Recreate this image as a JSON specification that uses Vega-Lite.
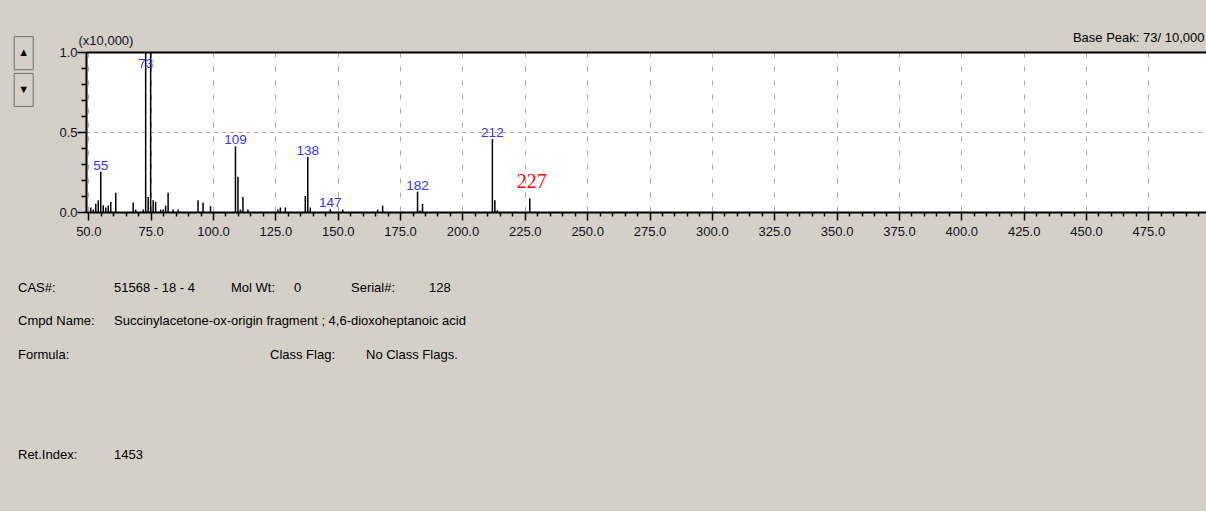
{
  "$schema": "https://vega.github.io/schema/vega-lite/v6.json",
  "autosize": {"type": "none"},
  "width": 1120,
  "height": 160,
  "padding": {"left": 86, "top": 52, "right": 0, "bottom": 299},
  "background": "#d4d0c8",
  "view": {"fill": "white", "stroke": null},
  "config": {"font": "Liberation Sans"},
  "datasets": {
    "peaks": [
      {"mz": 51, "intensity": 0.028},
      {"mz": 52, "intensity": 0.015},
      {"mz": 53, "intensity": 0.052},
      {"mz": 54, "intensity": 0.073},
      {"mz": 55, "intensity": 0.252, "annotation": "auto"},
      {"mz": 56, "intensity": 0.042},
      {"mz": 57, "intensity": 0.028},
      {"mz": 58, "intensity": 0.04},
      {"mz": 59, "intensity": 0.063},
      {"mz": 61, "intensity": 0.12},
      {"mz": 68, "intensity": 0.06},
      {"mz": 69, "intensity": 0.015},
      {"mz": 72, "intensity": 0.015},
      {"mz": 73, "intensity": 1.0, "annotation": "auto"},
      {"mz": 74, "intensity": 0.094},
      {"mz": 75, "intensity": 1.0},
      {"mz": 76, "intensity": 0.073},
      {"mz": 77, "intensity": 0.063},
      {"mz": 79, "intensity": 0.015},
      {"mz": 80, "intensity": 0.015},
      {"mz": 81, "intensity": 0.04},
      {"mz": 82, "intensity": 0.12},
      {"mz": 84, "intensity": 0.015},
      {"mz": 86, "intensity": 0.015},
      {"mz": 94, "intensity": 0.073},
      {"mz": 96, "intensity": 0.06},
      {"mz": 99, "intensity": 0.037},
      {"mz": 109, "intensity": 0.41, "annotation": "auto"},
      {"mz": 110, "intensity": 0.22},
      {"mz": 111, "intensity": 0.015},
      {"mz": 112, "intensity": 0.094},
      {"mz": 114, "intensity": 0.015},
      {"mz": 126, "intensity": 0.015},
      {"mz": 127, "intensity": 0.028},
      {"mz": 129, "intensity": 0.028},
      {"mz": 137, "intensity": 0.1},
      {"mz": 138, "intensity": 0.346, "annotation": "auto"},
      {"mz": 139, "intensity": 0.028},
      {"mz": 147, "intensity": 0.017, "annotation": "auto"},
      {"mz": 152, "intensity": 0.015},
      {"mz": 166, "intensity": 0.015},
      {"mz": 168, "intensity": 0.04},
      {"mz": 182, "intensity": 0.127, "annotation": "auto"},
      {"mz": 183, "intensity": 0.01},
      {"mz": 184, "intensity": 0.05},
      {"mz": 212, "intensity": 0.456, "annotation": "auto"},
      {"mz": 213, "intensity": 0.073},
      {"mz": 214, "intensity": 0.01},
      {"mz": 227, "intensity": 0.086, "annotation": "manual"}
    ],
    "info": [
      {"line": 1, "tab": 0, "text": "CAS#:"},
      {"line": 1, "tab": 16, "text": "51568 - 18 - 4"},
      {"line": 1, "tab": 35.5, "text": "Mol Wt:"},
      {"line": 1, "tab": 46, "text": "0"},
      {"line": 1, "tab": 55.5, "text": "Serial#:"},
      {"line": 1, "tab": 68.5, "text": "128"},
      {"line": 2, "tab": 0, "text": "Cmpd Name:"},
      {"line": 2, "tab": 16, "text": "Succinylacetone-ox-origin fragment ; 4,6-dioxoheptanoic acid"},
      {"line": 3, "tab": 0, "text": "Formula:"},
      {"line": 3, "tab": 42, "text": "Class Flag:"},
      {"line": 3, "tab": 58, "text": "No Class Flags."},
      {"line": 6, "tab": 0, "text": "Ret.Index:"},
      {"line": 6, "tab": 16, "text": "1453"}
    ],
    "controls": [
      {"control": "scroll up", "glyph": "▲", "line": -6.18, "tab": 0.95},
      {"control": "scroll down", "glyph": "▼", "line": -5.08, "tab": 0.95}
    ]
  },
  "layer": [
    {
      "data": {"name": "peaks"},
      "mark": {"type": "rule", "color": "black", "strokeWidth": 1.5},
      "encoding": {
        "x": {
          "field": "mz", "type": "quantitative",
          "scale": {"domain": [49.08, 498.1], "nice": false, "zero": false},
          "axis": {
            "title": null,
            "values": [50,55,60,65,70,75,80,85,90,95,100,105,110,115,120,125,130,135,140,145,150,155,160,165,170,175,180,185,190,195,200,205,210,215,220,225,230,235,240,245,250,255,260,265,270,275,280,285,290,295,300,305,310,315,320,325,330,335,340,345,350,355,360,365,370,375,380,385,390,395,400,405,410,415,420,425,430,435,440,445,450,455,460,465,470,475,480,485,490,495],
            "labelExpr": "datum.value % 25 === 0 ? format(datum.value, '.1f') : ''",
            "labelOverlap": false,
            "labelFlush": false,
            "labelFont": "Liberation Sans",
            "labelFontSize": 13,
            "labelColor": "#111122",
            "labelPadding": 5,
            "tickColor": "black",
            "tickWidth": 1.5,
            "tickSize": {"condition": {"test": "datum.value % 25 === 0", "value": 8}, "value": 4},
            "domainColor": "black",
            "domainWidth": 2,
            "grid": true,
            "gridColor": "#a8a8a8",
            "gridWidth": 1,
            "gridDash": [5, 9],
            "gridOpacity": {"condition": {"test": "datum.value % 25 === 0", "value": 1}, "value": 0}
          }
        },
        "y": {
          "field": "intensity", "type": "quantitative",
          "scale": {"domain": [0, 1], "nice": false},
          "axis": {
            "title": "(x10,000)",
            "titleAngle": 0,
            "titleAlign": "left",
            "titleBaseline": "alphabetic",
            "titleX": -8,
            "titleY": -8,
            "titleFont": "Liberation Sans",
            "titleFontSize": 13,
            "titleFontWeight": "normal",
            "titleColor": "#111122",
            "values": [0, 0.1, 0.2, 0.3, 0.4, 0.5, 0.6, 0.7, 0.8, 0.9, 1],
            "labelExpr": "(datum.value === 0 || datum.value === 0.5 || datum.value === 1) ? format(datum.value, '.1f') : ''",
            "labelFont": "Liberation Sans",
            "labelFontSize": 13,
            "labelColor": "#111122",
            "labelPadding": 0,
            "labelBaseline": "middle",
            "labelOverlap": false,
            "labelFlush": false,
            "tickColor": "black",
            "tickWidth": 1.5,
            "tickSize": {"condition": {"test": "datum.value === 0 || datum.value === 0.5 || datum.value === 1", "value": 9}, "value": 5},
            "domainColor": "black",
            "domainWidth": 2,
            "grid": true,
            "gridColor": "#a8a8a8",
            "gridDash": [4, 4],
            "gridOpacity": {"condition": {"test": "datum.value === 0.5 || datum.value === 1", "value": 1}, "value": 0}
          }
        },
        "y2": {"datum": 0}
      }
    },
    {
      "data": {"name": "peaks"},
      "transform": [
        {"filter": "datum.annotation === 'auto'"},
        {"calculate": "min(datum.intensity, 0.8875)", "as": "label_y"}
      ],
      "mark": {"type": "text", "font": "Liberation Sans", "fontSize": 13.5, "color": "#3333ff", "baseline": "alphabetic", "align": "center", "dy": -2},
      "encoding": {
        "x": {
          "field": "mz", "type": "quantitative",
          "scale": {"domain": [49.08, 498.1], "nice": false, "zero": false},
          "axis": {
            "orient": "top", "labels": false, "ticks": false, "grid": false,
            "domainColor": "black", "domainWidth": 2,
            "title": "Base Peak: 73/ 10,000",
            "titleAngle": 0, "titleAlign": "right", "titleBaseline": "alphabetic",
            "titleX": 1118, "titleY": -11,
            "titleFont": "Liberation Sans", "titleFontSize": 13, "titleFontWeight": "normal", "titleColor": "black"
          }
        },
        "y": {"field": "label_y", "type": "quantitative", "scale": {"domain": [0, 1], "nice": false}, "axis": null},
        "text": {"field": "mz", "type": "quantitative", "format": "d"}
      }
    },
    {
      "data": {"name": "peaks"},
      "transform": [{"filter": "datum.annotation === 'manual'"}],
      "mark": {"type": "text", "font": "Liberation Serif", "fontSize": 20, "color": "#ff0000", "baseline": "alphabetic", "align": "center", "dx": 2, "dy": -10},
      "encoding": {
        "x": {"field": "mz", "type": "quantitative", "scale": {"domain": [49.08, 498.1], "nice": false, "zero": false}, "axis": null},
        "y": {"field": "intensity", "type": "quantitative", "scale": {"domain": [0, 1], "nice": false}, "axis": null},
        "text": {"field": "mz", "type": "quantitative", "format": "d"}
      }
    },
    {
      "data": {"name": "info"},
      "mark": {"type": "text", "font": "Liberation Sans", "fontSize": 13, "color": "black", "baseline": "alphabetic", "align": "left", "dy": -1},
      "encoding": {
        "x": {"field": "tab", "type": "quantitative", "scale": {"domain": [11.3333, 198], "nice": false, "zero": false}, "axis": null},
        "y": {"field": "line", "type": "quantitative", "scale": {"domain": [-6.216, -1.425], "nice": false, "zero": false, "reverse": true}, "axis": null},
        "text": {"field": "text", "type": "nominal"}
      }
    },
    {
      "data": {"name": "controls"},
      "mark": {"type": "point", "shape": "M-0.576,-1H0.576V1H-0.576Z", "size": 1089, "filled": true, "fill": "#d4d0c8", "stroke": "#6e6e6e", "strokeWidth": 1, "opacity": 1},
      "encoding": {
        "x": {"field": "tab", "type": "quantitative", "scale": {"domain": [11.3333, 198], "nice": false, "zero": false}, "axis": null},
        "y": {"field": "line", "type": "quantitative", "scale": {"domain": [-6.216, -1.425], "nice": false, "zero": false, "reverse": true}, "axis": null}
      }
    },
    {
      "data": {"name": "controls"},
      "mark": {"type": "text", "fontSize": 11, "color": "black", "baseline": "middle", "align": "center"},
      "encoding": {
        "x": {"field": "tab", "type": "quantitative", "scale": {"domain": [11.3333, 198], "nice": false, "zero": false}, "axis": null},
        "y": {"field": "line", "type": "quantitative", "scale": {"domain": [-6.216, -1.425], "nice": false, "zero": false, "reverse": true}, "axis": null},
        "text": {"field": "glyph", "type": "nominal"}
      }
    }
  ],
  "resolve": {
    "scale": {"x": "independent", "y": "independent"},
    "axis": {"x": "independent", "y": "independent"}
  }
}
